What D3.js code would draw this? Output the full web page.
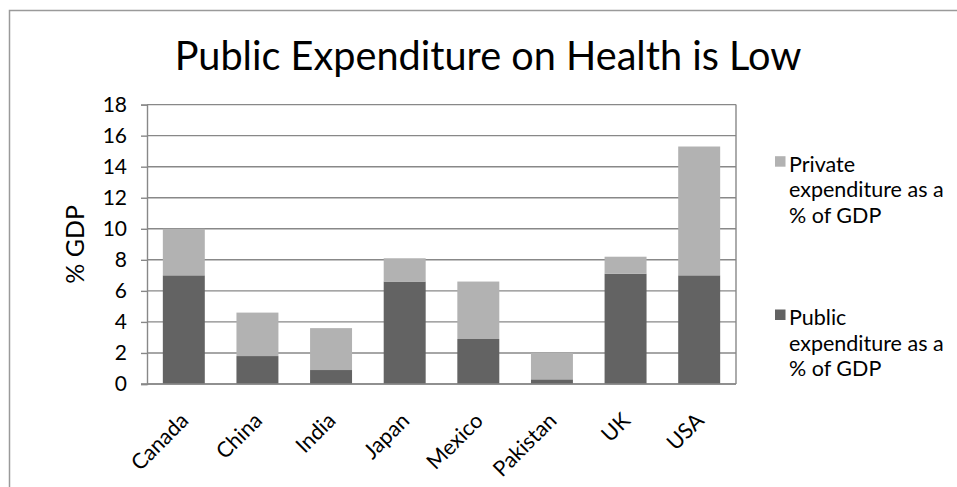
<!DOCTYPE html>
<html>
<head>
<meta charset="utf-8">
<script src="https://cdn.jsdelivr.net/npm/d3@7"></script>
<style>
  html, body { margin: 0; padding: 0; background: #fff; }
  svg { display: block; }
  text { font-family: "Gill Sans", "Gill Sans MT", Lato, "Open Sans", sans-serif; fill: #000; }
</style>
</head>
<body>
<div id="chart"></div>
<script>
const categories = ["Canada", "China", "India", "Japan", "Mexico", "Pakistan", "UK", "USA"];
const publicExp  = [7.0, 1.8, 0.9, 6.6, 2.9, 0.3, 7.1, 7.0];
const privateExp = [3.0, 2.8, 2.7, 1.5, 3.7, 1.7, 1.1, 8.3];
const yTicks = [0, 2, 4, 6, 8, 10, 12, 14, 16, 18];
const titleText = "Public Expenditure on Health is Low";
const yAxisTitle = "% GDP";
const legendLines = [
  ["Private", "expenditure as a", "% of GDP"],
  ["Public", "expenditure as a", "% of GDP"]
];
const seriesColors = ["#b2b2b2", "#636363"]; // private, public

const W = 957, H = 487;
const svg = d3.select("#chart").append("svg").attr("width", W).attr("height", H);

// outer frame
svg.append("rect").attr("x", 9.5).attr("y", 10.5).attr("width", 1000).attr("height", 600)
  .attr("fill", "none").attr("stroke", "#9a9a9a").attr("stroke-width", 1.5);

const plot = { left: 147, right: 736, top: 104.6, bottom: 384 };

const x = d3.scaleBand().domain(categories).range([plot.left, plot.right])
  .paddingInner(0.43).paddingOuter(0.215);
const y = d3.scaleLinear().domain([0, 18]).range([plot.bottom, plot.top]);

// gridlines
svg.append("g").selectAll("line").data(yTicks).join("line")
  .attr("x1", plot.left).attr("x2", plot.right)
  .attr("y1", d => y(d)).attr("y2", d => y(d))
  .attr("stroke", "#888").attr("stroke-width", 1.4);

// right border of plot area
svg.append("line").attr("x1", plot.right).attr("x2", plot.right)
  .attr("y1", plot.top).attr("y2", plot.bottom)
  .attr("stroke", "#888").attr("stroke-width", 1.4);

// stacked data
const rows = categories.map((c, i) => ({ cat: c, pub: publicExp[i], priv: privateExp[i] }));
const stack = d3.stack().keys(["pub", "priv"]);
const stacked = stack(rows);
const colorFor = { pub: seriesColors[1], priv: seriesColors[0] };

svg.append("g").selectAll("g").data(stacked).join("g")
  .attr("fill", d => colorFor[d.key])
  .selectAll("rect").data(d => d).join("rect")
  .attr("x", d => x(d.data.cat))
  .attr("width", x.bandwidth())
  .attr("y", d => y(d[1]))
  .attr("height", d => y(d[0]) - y(d[1]));

// y axis
const yAxis = svg.append("g").attr("transform", `translate(${plot.left},0)`)
  .call(d3.axisLeft(y).tickValues(yTicks).tickSize(6).tickPadding(14).tickFormat(d3.format("d")));
yAxis.select(".domain").attr("stroke", "#888").attr("stroke-width", 1.4);
yAxis.selectAll(".tick line").attr("stroke", "#888").attr("stroke-width", 1.4);
yAxis.selectAll(".tick text").attr("font-size", 21).attr("font-family", null).attr("fill", "#000");

// x axis baseline
svg.append("line").attr("x1", plot.left - 6).attr("x2", plot.right)
  .attr("y1", y(0)).attr("y2", y(0)).attr("stroke", "#888").attr("stroke-width", 1.4);

// x labels rotated
svg.append("g").selectAll("text").data(categories).join("text")
  .attr("text-anchor", "end")
  .attr("font-size", 21.5)
  .attr("transform", d => `translate(${x(d) + x.bandwidth() / 2 + 6},${y(0) + 38}) rotate(-45)`)
  .text(d => d);

// y axis title
svg.append("text").attr("font-size", 25).attr("text-anchor", "middle")
  .attr("transform", `translate(${84},${(plot.top + plot.bottom) / 2}) rotate(-90)`)
  .text(yAxisTitle);

// title fitted to width
const title = svg.append("text").attr("x", 488).attr("y", 70).attr("text-anchor", "middle")
  .attr("font-size", 36).text(titleText);
const tw = title.node().getComputedTextLength();
title.attr("font-size", 36 * 627 / tw);

// legend
const legendY = [171.7, 325];
const leg = svg.append("g");
legendLines.forEach((lines, i) => {
  leg.append("rect").attr("x", 775).attr("y", legendY[i] - 15.5).attr("width", 10.5).attr("height", 10.5)
    .attr("fill", seriesColors[i]);
  const t = leg.append("text").attr("x", 789).attr("y", legendY[i]).attr("font-size", 21.5);
  lines.forEach((ln, j) => {
    t.append("tspan").attr("x", 789).attr("y", legendY[i] + j * 25.6).text(ln);
  });
});
</script>
</body>
</html>
